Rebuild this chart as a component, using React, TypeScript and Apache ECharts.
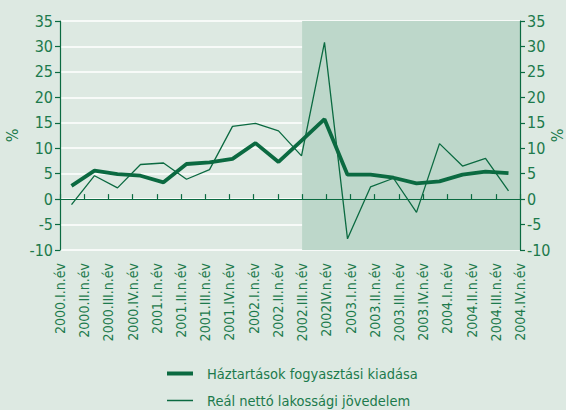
import React, { useEffect, useRef } from "react";
import * as echarts from "echarts";

const categories = [
  "2000.I.n.év", "2000.II.n.év", "2000.III.n.év", "2000.IV.n.év",
  "2001.I.n.év", "2001.II.n.év", "2001.III.n.év", "2001.IV.n.év",
  "2002.I.n.év", "2002.II.n.év", "2002.III.n.év", "2002IV.n.év",
  "2003.I.n.év", "2003.II.n.év", "2003.III.n.év", "2003.IV.n.év",
  "2004.I.n.év", "2004.II.n.év", "2004.III.n.év", "2004.IV.n.év",
];
const consumption = [2.6, 5.6, 4.9, 4.6, 3.3, 6.9, 7.2, 7.9, 11.0, 7.3, 11.5, 15.7, 4.8, 4.8, 4.2, 3.1, 3.5, 4.8, 5.4, 5.1];
const income = [-1.1, 4.6, 2.2, 6.8, 7.1, 3.9, 5.8, 14.3, 14.9, 13.4, 8.5, 30.8, -7.8, 2.4, 4.1, -2.6, 10.9, 6.5, 8.0, 1.6];
const seriesNames = ["Háztartások fogyasztási kiadása", "Reál nettó lakossági jövedelem"];
const shadeFrom = "2002.III.n.év";
const shadeTo = "2004.IV.n.év";

const FONT = "'DejaVu Sans Condensed', 'Liberation Sans Narrow', sans-serif";
const TEXT = "#1c7a4c";
const LINE = "#0b6a41";

export default function App() {
  const ref = useRef<HTMLDivElement>(null);
  useEffect(() => {
    const chart = echarts.init(ref.current!, null, { renderer: "svg" });
    const yBase = {
      type: "value",
      min: -10,
      max: 35,
      interval: 5,
      name: "%",
      nameLocation: "middle",
      nameRotate: 90,
      nameMoveOverlap: false,
      nameTextStyle: { color: TEXT, fontFamily: FONT, fontSize: 16 },
      axisLine: { show: true, lineStyle: { color: LINE, width: 1.2 } },
      axisTick: { show: true, length: 5, lineStyle: { color: LINE, width: 1.2 } },
      axisLabel: { color: TEXT, fontFamily: FONT, fontSize: 16, margin: 7 },
    };
    const legendBase = {
      orient: "vertical",
      left: 167,
      itemWidth: 26,
      padding: 0,
      icon: "rect",
      textStyle: { color: TEXT, fontFamily: FONT, fontSize: 14.5, padding: [0, 0, 0, 9] },
    };
    chart.setOption({
      animation: false,
      backgroundColor: "#dde9e2",
      textStyle: { fontFamily: FONT },
      grid: { left: 60, right: 46, top: 21, bottom: 160, outerBoundsMode: "none", containLabel: false },
      legend: [
        { ...legendBase, top: 366, itemHeight: 4, data: [seriesNames[0]] },
        { ...legendBase, top: 393, itemHeight: 1.5, data: [seriesNames[1]] },
      ],
      xAxis: [
        {
          type: "category",
          data: categories,
          boundaryGap: false,
          position: "bottom",
          axisLine: { show: false, onZero: false },
          axisTick: { show: false },
          splitLine: { show: false },
          axisLabel: { rotate: 90, color: TEXT, fontFamily: FONT, fontSize: 14, margin: 13, interval: 0 },
        },
        {
          type: "category",
          data: categories,
          boundaryGap: true,
          show: false,
        },
        {
          type: "category",
          data: categories,
          boundaryGap: false,
          z: 2,
          axisLine: { show: true, onZero: true, onZeroAxisIndex: 0, lineStyle: { color: LINE, width: 1.2 } },
          axisTick: { show: true, length: 5, interval: 0, lineStyle: { color: LINE, width: 1.2 } },
          axisLabel: { show: false },
          splitLine: { show: false },
        },
      ],
      yAxis: [
        {
          ...yBase,
          position: "left",
          nameGap: 40,
          z: 0,
          splitLine: { show: true, lineStyle: { color: "#ffffff", width: 1.5 } },
        },
        {
          ...yBase,
          position: "right",
          nameGap: 29,
          z: 2,
          splitLine: { show: false },
        },
      ],
      series: [
        {
          name: "shade",
          type: "line",
          xAxisIndex: 0,
          yAxisIndex: 0,
          z: 1,
          data: categories.map(() => null),
          showSymbol: false,
          silent: true,
          markArea: {
            silent: true,
            itemStyle: { color: "#bdd7ca" },
            data: [[{ xAxis: shadeFrom, yAxis: 35 }, { xAxis: shadeTo, yAxis: -10 }]],
          },
        },
        {
          name: seriesNames[0],
          type: "line",
          xAxisIndex: 1,
          yAxisIndex: 0,
          z: 4,
          data: consumption,
          symbol: "none",
          lineStyle: { color: LINE, width: 3.8 },
          itemStyle: { color: LINE },
        },
        {
          name: seriesNames[1],
          type: "line",
          xAxisIndex: 1,
          yAxisIndex: 0,
          z: 3,
          data: income,
          symbol: "none",
          lineStyle: { color: LINE, width: 1.3 },
          itemStyle: { color: LINE },
        },
      ],
    });
    return () => chart.dispose();
  }, []);
  return (
    <div
      ref={ref}
      style={{ position: "fixed", left: 0, top: 0, width: 566, height: 410 }}
    />
  );
}
